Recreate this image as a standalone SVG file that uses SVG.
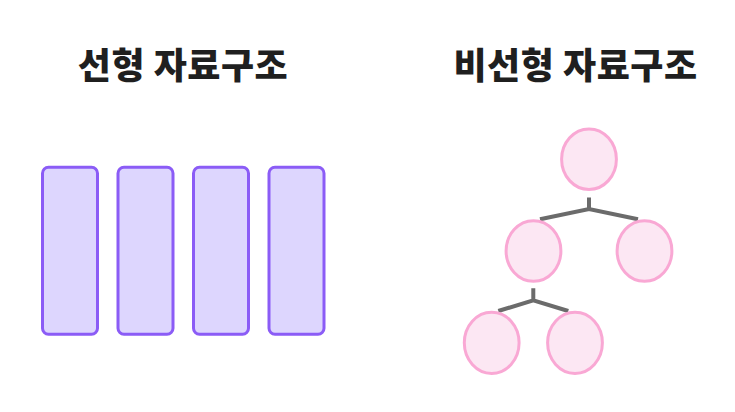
<svg xmlns="http://www.w3.org/2000/svg" width="735" height="412" viewBox="0 0 735 412">
<style>
.title{font-family:"Noto Sans CJK KR","Noto Sans",sans-serif;font-weight:900;font-size:36px;letter-spacing:0.5px;fill:#1f1f1f;text-anchor:middle}
.box{fill:#DDD6FE;stroke:#8B5CF6;stroke-width:3}
.node{fill:#FCE7F3;stroke:#F9A8D4;stroke-width:3}
.edge{stroke:#6B6B6B;stroke-width:4;fill:none;stroke-linecap:butt}
</style>
<rect width="735" height="412" fill="#ffffff"/>
<text class="title" x="183" y="79">선형 자료구조</text>
<text class="title" x="575.5" y="79">비선형 자료구조</text>
<g id="linear">
<rect id="box1" class="box" x="42.5" y="167.2" width="55" height="167" rx="6"/>
<rect id="box2" class="box" x="118" y="167.2" width="55" height="167" rx="6"/>
<rect id="box3" class="box" x="193.5" y="167.2" width="55" height="167" rx="6"/>
<rect id="box4" class="box" x="269" y="167.2" width="55" height="167" rx="6"/>
</g>
<g id="connectors">
<path class="edge" d="M589 197.5V209M540 219.3L589 209L638 219.3"/>
<path class="edge" d="M533.3 288.3V300.3M498.3 311L533.3 300.3L568.3 311"/>
</g>
<g id="n-root"><ellipse class="node" cx="589" cy="159.2" rx="27.4" ry="30.3"/></g>
<g id="n-left"><ellipse class="node" cx="533.5" cy="251" rx="27.4" ry="30.3"/></g>
<g id="n-right"><ellipse class="node" cx="644.5" cy="251" rx="27.4" ry="30.3"/></g>
<g id="n-ll"><ellipse class="node" cx="491.7" cy="342.8" rx="27.4" ry="30.6"/></g>
<g id="n-lr"><ellipse class="node" cx="575" cy="342.8" rx="27.4" ry="30.6"/></g>
</svg>
